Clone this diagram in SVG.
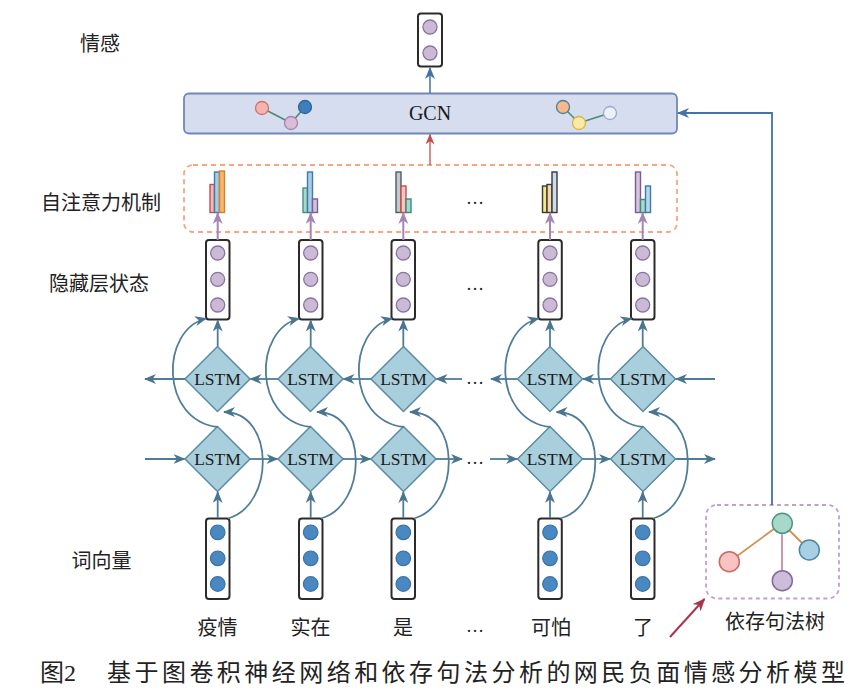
<svg xmlns="http://www.w3.org/2000/svg" width="861" height="693" viewBox="0 0 861 693">
<defs>
<marker id="ab" viewBox="0 0 12 10" refX="11" refY="5" markerWidth="12" markerHeight="10" markerUnits="userSpaceOnUse" orient="auto"><path d="M0,0 L12,5 L0,10 L3.5,5 z" fill="#4a7590"/></marker>
<marker id="ag" viewBox="0 0 12 10" refX="11" refY="5" markerWidth="12" markerHeight="10" markerUnits="userSpaceOnUse" orient="auto"><path d="M0,0 L12,5 L0,10 L3.5,5 z" fill="#4572a6"/></marker>
<marker id="ar" viewBox="0 0 12 10" refX="11" refY="5" markerWidth="11" markerHeight="9" markerUnits="userSpaceOnUse" orient="auto"><path d="M0,0 L12,5 L0,10 L3.5,5 z" fill="#c0504d"/></marker>
<marker id="ap" viewBox="0 0 12 10" refX="11" refY="5" markerWidth="12" markerHeight="10" markerUnits="userSpaceOnUse" orient="auto"><path d="M0,0 L12,5 L0,10 L3.5,5 z" fill="#a585b5"/></marker>
<marker id="am" viewBox="0 0 12 10" refX="11" refY="5" markerWidth="13" markerHeight="11" markerUnits="userSpaceOnUse" orient="auto"><path d="M0,0 L12,5 L0,10 L3.5,5 z" fill="#a83550"/></marker>
</defs>
<style>
.lbl{font-family:"Liberation Serif","Noto Sans CJK SC",serif;font-size:20px;fill:#222}
.lst{font-family:"Liberation Serif",serif;font-size:17.5px;fill:#1a1a1a;text-anchor:middle}
.vb{fill:#fff;stroke:#2e2a2a;stroke-width:2}
.hc{fill:#cbbad6;stroke:#8a74a0;stroke-width:1.3}
.wc{fill:#4a88c2;stroke:#3a70a6;stroke-width:1.2}
.dm{fill:#a9cfdc;stroke:#5b8ba2;stroke-width:1.5}
.cn{fill:none;stroke:#4f7d98;stroke-width:1.8}
.pu{fill:none;stroke:#a585b5;stroke-width:2}
.bar{stroke-width:1.4}
.dots{font-family:"Liberation Serif",serif;font-size:18px;fill:#222;text-anchor:middle}
</style>
<rect width="861" height="693" fill="#fff"/>

<!-- left labels -->
<text class="lbl" x="100" y="50.5" text-anchor="middle">情感</text>
<text class="lbl" x="101" y="210" text-anchor="middle">自注意力机制</text>
<text class="lbl" x="99" y="291" text-anchor="middle">隐藏层状态</text>
<text class="lbl" x="101.5" y="567.5" text-anchor="middle">词向量</text>

<!-- output node -->
<g id="output">
<rect class="vb" x="418" y="13.5" width="24" height="53" rx="3"/>
<circle class="hc" cx="430" cy="27" r="7"/>
<circle class="hc" cx="430" cy="53" r="7"/>
</g>

<!-- GCN -->
<g id="gcn">
<rect x="184" y="93.5" width="493" height="40" rx="5" fill="#d5ddef" stroke="#7088b8" stroke-width="1.8"/>
<text x="430" y="120" font-family="Liberation Serif, serif" font-size="20" text-anchor="middle" fill="#1a1a1a">GCN</text>
<line x1="262" y1="108" x2="291" y2="123" stroke="#4d8a7a" stroke-width="1.6"/>
<line x1="291" y1="123" x2="305" y2="107" stroke="#4d8a7a" stroke-width="1.6"/>
<circle cx="262" cy="108" r="6.5" fill="#f4b4b0" stroke="#d0706c" stroke-width="1.3"/>
<circle cx="291" cy="123" r="6.5" fill="#d9bcd8" stroke="#a883a8" stroke-width="1.3"/>
<circle cx="305" cy="107" r="6.5" fill="#3d7fbb" stroke="#2e6698" stroke-width="1.3"/>
<line x1="563" y1="107" x2="579" y2="123" stroke="#4d8a7a" stroke-width="1.6"/>
<line x1="579" y1="123" x2="610" y2="113" stroke="#4d8a7a" stroke-width="1.6"/>
<circle cx="563" cy="107" r="6.5" fill="#f5b98a" stroke="#4c7d98" stroke-width="1.3"/>
<circle cx="579" cy="123" r="6.5" fill="#faeaa6" stroke="#d7b845" stroke-width="1.3"/>
<circle cx="610" cy="113" r="6.5" fill="#eef1f8" stroke="#9aaad0" stroke-width="1.3"/>
</g>

<!-- attention -->
<g id="attention">
<rect x="184" y="165" width="493" height="67" rx="9" fill="none" stroke="#f6a77f" stroke-width="1.8" stroke-dasharray="5,4"/>
<g class="bar">
<rect x="210" y="184.5" width="4.5" height="28" fill="#f3b7b3" stroke="#c0504d"/>
<rect x="214.5" y="172" width="5" height="40.5" fill="#a8cde4" stroke="#3f7aa8"/>
<rect x="219.5" y="171" width="5" height="41.5" fill="#f7b76c" stroke="#d4802c"/>
<rect x="303" y="188" width="4.5" height="24.5" fill="#a9d8cc" stroke="#4a9080"/>
<rect x="307.5" y="172" width="5" height="40.5" fill="#a8cde4" stroke="#3f7aa8"/>
<rect x="312.5" y="199" width="5" height="13.5" fill="#d2c0dd" stroke="#7d5e95"/>
<rect x="396" y="172" width="5" height="40.5" fill="#c5c9cf" stroke="#555a60"/>
<rect x="401" y="186" width="5" height="26.5" fill="#f6c5c0" stroke="#c0504d"/>
<rect x="406" y="199" width="5" height="13.5" fill="#a9d8cc" stroke="#3d8a78"/>
<rect x="542.5" y="186" width="4.5" height="26.5" fill="#f4e784" stroke="#3a3a3a"/>
<rect x="547" y="184.5" width="5" height="28" fill="#f9d6ad" stroke="#3a3a3a"/>
<rect x="552" y="172" width="5" height="40.5" fill="#c9ddee" stroke="#3a3a3a"/>
<rect x="635.5" y="172" width="5" height="40.5" fill="#d4c4e0" stroke="#7a5c92"/>
<rect x="640.5" y="199.5" width="5" height="13" fill="#a9d8cc" stroke="#3d8a78"/>
<rect x="645.5" y="186" width="5" height="26.5" fill="#b8d8ea" stroke="#3f7aa8"/>
</g>
<text class="dots" x="475" y="204">…</text>
</g>

<!-- hidden states -->
<g id="hidden">
<rect class="vb" x="206" y="240" width="23.5" height="79.5" rx="3"/>
<circle class="hc" cx="217.7" cy="253" r="7"/><circle class="hc" cx="217.7" cy="279.3" r="7"/><circle class="hc" cx="217.7" cy="305" r="7"/>
<rect class="vb" x="299" y="240" width="23.5" height="79.5" rx="3"/>
<circle class="hc" cx="310.7" cy="253" r="7"/><circle class="hc" cx="310.7" cy="279.3" r="7"/><circle class="hc" cx="310.7" cy="305" r="7"/>
<rect class="vb" x="391.5" y="240" width="23.5" height="79.5" rx="3"/>
<circle class="hc" cx="403.3" cy="253" r="7"/><circle class="hc" cx="403.3" cy="279.3" r="7"/><circle class="hc" cx="403.3" cy="305" r="7"/>
<rect class="vb" x="538.3" y="240" width="23.5" height="79.5" rx="3"/>
<circle class="hc" cx="550" cy="253" r="7"/><circle class="hc" cx="550" cy="279.3" r="7"/><circle class="hc" cx="550" cy="305" r="7"/>
<rect class="vb" x="631" y="240" width="23.5" height="79.5" rx="3"/>
<circle class="hc" cx="642.7" cy="253" r="7"/><circle class="hc" cx="642.7" cy="279.3" r="7"/><circle class="hc" cx="642.7" cy="305" r="7"/>
<text class="dots" x="475" y="290">…</text>
</g>

<!-- LSTM nodes -->
<g id="lstm-backward">
<path class="dm" d="M217.5,346.5 L250,379 L217.5,411.5 L185,379 z"/><text class="lst" x="217.5" y="385">LSTM</text>
<path class="dm" d="M310.5,346.5 L343,379 L310.5,411.5 L278,379 z"/><text class="lst" x="310.5" y="385">LSTM</text>
<path class="dm" d="M403.5,346.5 L436,379 L403.5,411.5 L371,379 z"/><text class="lst" x="403.5" y="385">LSTM</text>
<path class="dm" d="M550,346.5 L582.5,379 L550,411.5 L517.5,379 z"/><text class="lst" x="550" y="385">LSTM</text>
<path class="dm" d="M643,346.5 L675.5,379 L643,411.5 L610.5,379 z"/><text class="lst" x="643" y="385">LSTM</text>
<text class="dots" x="475" y="384">…</text>
</g>
<g id="lstm-forward">
<path class="dm" d="M217.5,426.5 L250,459 L217.5,491.5 L185,459 z"/><text class="lst" x="217.5" y="465">LSTM</text>
<path class="dm" d="M310.5,426.5 L343,459 L310.5,491.5 L278,459 z"/><text class="lst" x="310.5" y="465">LSTM</text>
<path class="dm" d="M403.5,426.5 L436,459 L403.5,491.5 L371,459 z"/><text class="lst" x="403.5" y="465">LSTM</text>
<path class="dm" d="M550,426.5 L582.5,459 L550,491.5 L517.5,459 z"/><text class="lst" x="550" y="465">LSTM</text>
<path class="dm" d="M643,426.5 L675.5,459 L643,491.5 L610.5,459 z"/><text class="lst" x="643" y="465">LSTM</text>
<text class="dots" x="475" y="464">…</text>
</g>

<!-- word vectors -->
<g id="words">
<rect class="vb" x="206" y="518.5" width="23.5" height="80.5" rx="3"/>
<circle class="wc" cx="217.7" cy="532.3" r="7.3"/><circle class="wc" cx="217.7" cy="558.3" r="7.3"/><circle class="wc" cx="217.7" cy="584" r="7.3"/>
<rect class="vb" x="299" y="518.5" width="23.5" height="80.5" rx="3"/>
<circle class="wc" cx="310.7" cy="532.3" r="7.3"/><circle class="wc" cx="310.7" cy="558.3" r="7.3"/><circle class="wc" cx="310.7" cy="584" r="7.3"/>
<rect class="vb" x="391.5" y="518.5" width="23.5" height="80.5" rx="3"/>
<circle class="wc" cx="403.3" cy="532.3" r="7.3"/><circle class="wc" cx="403.3" cy="558.3" r="7.3"/><circle class="wc" cx="403.3" cy="584" r="7.3"/>
<rect class="vb" x="538.3" y="518.5" width="23.5" height="80.5" rx="3"/>
<circle class="wc" cx="550" cy="532.3" r="7.3"/><circle class="wc" cx="550" cy="558.3" r="7.3"/><circle class="wc" cx="550" cy="584" r="7.3"/>
<rect class="vb" x="631" y="518.5" width="23.5" height="80.5" rx="3"/>
<circle class="wc" cx="642.7" cy="532.3" r="7.3"/><circle class="wc" cx="642.7" cy="558.3" r="7.3"/><circle class="wc" cx="642.7" cy="584" r="7.3"/>
<text class="lbl" x="217.5" y="634.5" text-anchor="middle">疫情</text>
<text class="lbl" x="310.5" y="634.5" text-anchor="middle">实在</text>
<text class="lbl" x="403" y="634.5" text-anchor="middle">是</text>
<text class="dots" x="475" y="632">…</text>
<text class="lbl" x="551" y="634.5" text-anchor="middle">可怕</text>
<text class="lbl" x="643" y="634.5" text-anchor="middle">了</text>
</g>

<!-- dependency tree -->
<g id="dep-tree">
<rect x="706" y="505" width="133" height="93.5" rx="11" fill="none" stroke="#c39ed0" stroke-width="1.8" stroke-dasharray="4,3.5"/>
<line x1="782" y1="523" x2="729" y2="562" stroke="#d4904e" stroke-width="1.8"/>
<line x1="782" y1="523" x2="809" y2="550" stroke="#d4904e" stroke-width="1.8"/>
<line x1="782" y1="523" x2="782" y2="581" stroke="#b57a95" stroke-width="1.5"/>
<circle cx="782.3" cy="523.3" r="10" fill="#a7d8c9" stroke="#4f9484" stroke-width="1.5"/>
<circle cx="729.3" cy="561.7" r="10" fill="#f8c3c0" stroke="#c86a66" stroke-width="1.5"/>
<circle cx="809.3" cy="550" r="10" fill="#a7d0e2" stroke="#4e86a6" stroke-width="1.5"/>
<circle cx="782.3" cy="580.7" r="10" fill="#cdbdda" stroke="#84699c" stroke-width="1.5"/>
<text class="lbl" x="775" y="629" text-anchor="middle">依存句法树</text>
</g>

<!-- connectors -->
<g id="connectors">
<line x1="430" y1="93" x2="430" y2="68" stroke="#4572a6" stroke-width="1.5" marker-end="url(#ag)"/>
<line x1="430" y1="165" x2="430" y2="134.5" stroke="#c0504d" stroke-width="1.3" marker-end="url(#ar)"/>
<path d="M772,505 L772,113 L678,113" fill="none" stroke="#4572a6" stroke-width="1.8" marker-end="url(#ag)"/>
<line x1="670" y1="637" x2="704.5" y2="599" stroke="#a83550" stroke-width="2" marker-end="url(#am)"/>
<!-- hidden to attention -->
<line class="pu" x1="217.7" y1="240" x2="217.7" y2="213" marker-end="url(#ap)"/>
<line class="pu" x1="310.7" y1="240" x2="310.7" y2="213" marker-end="url(#ap)"/>
<line class="pu" x1="403.3" y1="240" x2="403.3" y2="213" marker-end="url(#ap)"/>
<line class="pu" x1="550" y1="240" x2="550" y2="213" marker-end="url(#ap)"/>
<line class="pu" x1="642.7" y1="240" x2="642.7" y2="213" marker-end="url(#ap)"/>
<!-- backward LSTM row -->
<line class="cn" x1="185" y1="379" x2="145" y2="379" marker-end="url(#ab)"/>
<line class="cn" x1="278" y1="379" x2="250.5" y2="379" marker-end="url(#ab)"/>
<line class="cn" x1="371" y1="379" x2="343.5" y2="379" marker-end="url(#ab)"/>
<line class="cn" x1="462" y1="379" x2="436.5" y2="379" marker-end="url(#ab)"/>
<line class="cn" x1="517.5" y1="379" x2="491" y2="379" marker-end="url(#ab)"/>
<line class="cn" x1="610.5" y1="379" x2="583" y2="379" marker-end="url(#ab)"/>
<line class="cn" x1="715" y1="379" x2="676" y2="379" marker-end="url(#ab)"/>
<!-- forward LSTM row -->
<line class="cn" x1="145" y1="459" x2="184.5" y2="459" marker-end="url(#ab)"/>
<line class="cn" x1="250" y1="459" x2="277.5" y2="459" marker-end="url(#ab)"/>
<line class="cn" x1="343" y1="459" x2="370.5" y2="459" marker-end="url(#ab)"/>
<line class="cn" x1="436" y1="459" x2="462" y2="459" marker-end="url(#ab)"/>
<line class="cn" x1="490" y1="459" x2="517" y2="459" marker-end="url(#ab)"/>
<line class="cn" x1="582.5" y1="459" x2="610" y2="459" marker-end="url(#ab)"/>
<line class="cn" x1="675.5" y1="459" x2="715" y2="459" marker-end="url(#ab)"/>
<!-- vertical: words to forward, backward to hidden; skip curves -->
<g id="col-links">
<line class="cn" x1="217.7" y1="518" x2="217.7" y2="492" marker-end="url(#ab)"/>
<line class="cn" x1="217.7" y1="346.5" x2="217.7" y2="320.5" marker-end="url(#ab)"/>
<path class="cn" d="M228,518.5 C275,505 275,412 224,412" marker-end="url(#ab)"/>
<path class="cn" d="M217.5,427 C160,420 160,330 206,318.5" marker-end="url(#ab)"/>

<line class="cn" x1="310.7" y1="518" x2="310.7" y2="492" marker-end="url(#ab)"/>
<line class="cn" x1="310.7" y1="346.5" x2="310.7" y2="320.5" marker-end="url(#ab)"/>
<path class="cn" d="M321,518.5 C368,505 368,412 317,412" marker-end="url(#ab)"/>
<path class="cn" d="M310.5,427 C253,420 253,330 299,318.5" marker-end="url(#ab)"/>

<line class="cn" x1="403.3" y1="518" x2="403.3" y2="492" marker-end="url(#ab)"/>
<line class="cn" x1="403.3" y1="346.5" x2="403.3" y2="320.5" marker-end="url(#ab)"/>
<path class="cn" d="M414,518.5 C461,505 461,412 410,412" marker-end="url(#ab)"/>
<path class="cn" d="M403.5,427 C346,420 346,330 392,318.5" marker-end="url(#ab)"/>

<line class="cn" x1="550" y1="518" x2="550" y2="492" marker-end="url(#ab)"/>
<line class="cn" x1="550" y1="346.5" x2="550" y2="320.5" marker-end="url(#ab)"/>
<path class="cn" d="M560.5,518.5 C607.5,505 607.5,412 556.5,412" marker-end="url(#ab)"/>
<path class="cn" d="M550,427 C492.5,420 492.5,330 538.5,318.5" marker-end="url(#ab)"/>

<line class="cn" x1="642.7" y1="518" x2="642.7" y2="492" marker-end="url(#ab)"/>
<line class="cn" x1="642.7" y1="346.5" x2="642.7" y2="320.5" marker-end="url(#ab)"/>
<path class="cn" d="M653,518.5 C700,505 700,412 649,412" marker-end="url(#ab)"/>
<path class="cn" d="M643,427 C585.5,420 585.5,330 631.5,318.5" marker-end="url(#ab)"/>
</g>
</g>

<!-- caption -->
<text x="40" y="680.5" font-family="Liberation Serif, Noto Sans CJK SC, serif" font-size="24" fill="#222">图2</text>
<text x="107" y="680.5" font-family="Liberation Serif, Noto Sans CJK SC, serif" font-size="24" fill="#222" textLength="738" lengthAdjust="spacing">基于图卷积神经网络和依存句法分析的网民负面情感分析模型</text>
</svg>
